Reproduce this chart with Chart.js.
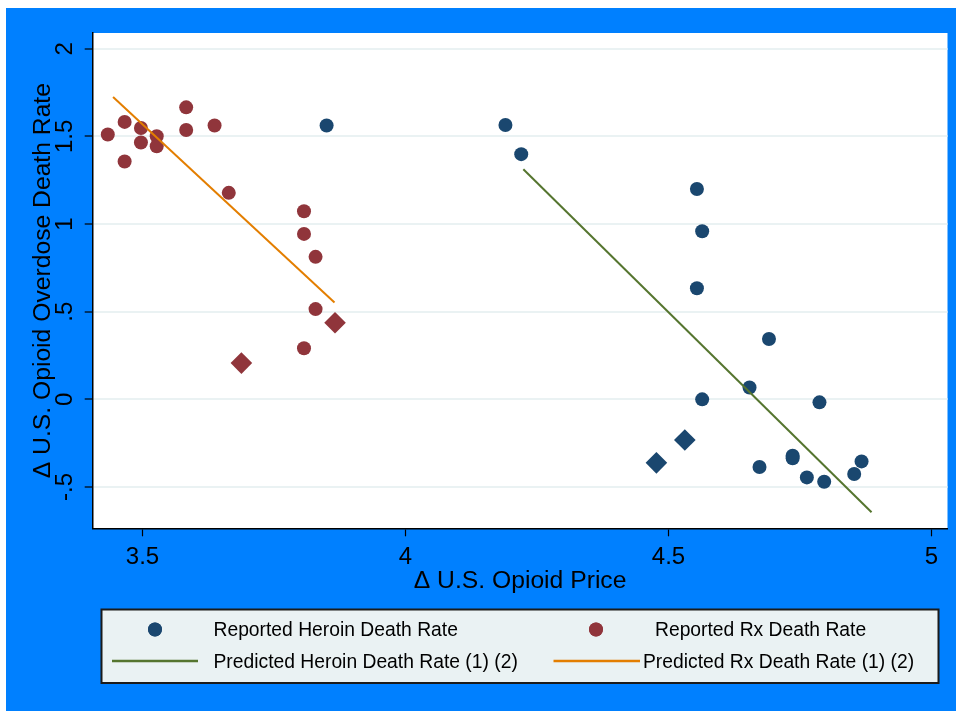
<!DOCTYPE html>
<html>
<head>
<meta charset="utf-8">
<script src="https://cdn.jsdelivr.net/npm/chart.js@4.4.0/dist/chart.umd.min.js"></script>
<style>
  html, body { margin: 0; padding: 0; background: #fff; }
  canvas { display: block; }
</style>
</head>
<body>
<canvas id="chart" width="956" height="711"></canvas>
<script>
// Change in opioid overdose death rate against change in opioid price
const heroinPrice = [3.850, 4.190, 4.220, 4.554, 4.564, 4.554, 4.691, 4.654, 4.564, 4.787, 4.673, 4.736, 4.736, 4.763, 4.796, 4.853, 4.867];
const heroinRate  = [1.562, 1.565, 1.399, 1.200, 0.959, 0.634, 0.344, 0.068, 0.000, -0.017, -0.386, -0.322, -0.336, -0.445, -0.470, -0.426, -0.354];
const heroinMarkedPrice = [4.531, 4.477];
const heroinMarkedRate  = [-0.232, -0.362];

const rxPrice = [3.434, 3.466, 3.466, 3.497, 3.497, 3.527, 3.527, 3.583, 3.583, 3.637, 3.664, 3.807, 3.807, 3.829, 3.829, 3.807];
const rxRate  = [1.511, 1.583, 1.357, 1.548, 1.465, 1.501, 1.444, 1.666, 1.537, 1.562, 1.178, 1.073, 0.944, 0.813, 0.515, 0.292];
const rxMarkedPrice = [3.866, 3.688];
const rxMarkedRate  = [0.437, 0.207];

// fitted lines (end points)
const heroinFitPrice = [4.224, 4.886];
const heroinFitRate  = [1.313, -0.644];
const rxFitPrice = [3.444, 3.865];
const rxFitRate  = [1.725, 0.553];

const xTicks = [3.5, 4, 4.5, 5];
const xTickLabels = ['3.5', '4', '4.5', '5'];
const yTicks = [-0.5, 0, 0.5, 1, 1.5, 2];
const yTickLabels = ['-.5', '0', '.5', '1', '1.5', '2'];

const legendLabels = [
  'Reported Heroin Death Rate',
  'Reported Rx Death Rate',
  'Predicted Heroin Death Rate (1) (2)',
  'Predicted Rx Death Rate (1) (2)'
];

const NAVY = '#1A476F';
const CRANBERRY = '#90353B';
const GREEN = '#55752F';
const ORANGE = '#E37E00';
const GRID = '#EAF2F3';
const FONT = '"Liberation Sans", Arial, Helvetica, sans-serif';

const pts = (xs, ys) => xs.map((x, i) => ({ x: x, y: ys[i] }));

const framePlugin = {
  id: 'frame',
  beforeDraw(chart) {
    const { ctx, chartArea: a } = chart;
    ctx.save();
    ctx.fillStyle = '#ffffff';
    ctx.fillRect(0, 0, chart.width, chart.height);
    ctx.fillStyle = '#0080FF';
    ctx.fillRect(6, 8, chart.width - 6, chart.height - 8);
    ctx.fillStyle = '#ffffff';
    ctx.fillRect(a.left, a.top, a.right - a.left, a.bottom - a.top);
    ctx.restore();
  }
};

const boxLegendPlugin = {
  id: 'boxLegend',
  afterDraw(chart) {
    const ctx = chart.ctx;
    const ds = chart.data.datasets;
    ctx.save();
    ctx.fillStyle = GRID;
    ctx.fillRect(101.5, 609.5, 837, 73.5);
    ctx.strokeStyle = '#1b1b1b';
    ctx.lineWidth = 2;
    ctx.strokeRect(101.5, 609.5, 837, 73.5);

    const items = [
      { d: ds[2], kind: 'dot',  cx: 155, x0: 0, x1: 0, cy: 629.5, tx: 213.5, ty: 630.5 },
      { d: ds[4], kind: 'dot',  cx: 596, x0: 0, x1: 0, cy: 629.5, tx: 655, ty: 630.5 },
      { d: ds[0], kind: 'line', cx: 0, x0: 112, x1: 198, cy: 661, tx: 213.5, ty: 662.5 },
      { d: ds[1], kind: 'line', cx: 0, x0: 553.5, x1: 640, cy: 661, tx: 643, ty: 662.5 }
    ];
    ctx.font = '19.3px ' + FONT;
    ctx.textBaseline = 'middle';
    ctx.textAlign = 'left';
    items.forEach(it => {
      if (it.kind === 'dot') {
        ctx.fillStyle = it.d.backgroundColor;
        Chart.helpers.drawPoint(ctx, { pointStyle: 'circle', radius: 7, borderWidth: 0, rotation: 0 }, it.cx, it.cy);
        ctx.fill();
      } else {
        ctx.strokeStyle = it.d.borderColor;
        ctx.lineWidth = 2.5;
        ctx.beginPath();
        ctx.moveTo(it.x0, it.cy);
        ctx.lineTo(it.x1, it.cy);
        ctx.stroke();
      }
      ctx.fillStyle = '#000';
      ctx.fillText(it.d.label, it.tx, it.ty);
    });
    ctx.restore();
  }
};

new Chart(document.getElementById('chart'), {
  type: 'scatter',
  data: {
    datasets: [
      { label: legendLabels[2], data: pts(heroinFitPrice, heroinFitRate), showLine: true,
        borderColor: GREEN, backgroundColor: GREEN, borderWidth: 2, pointRadius: 0, order: 0 },
      { label: legendLabels[3], data: pts(rxFitPrice, rxFitRate), showLine: true,
        borderColor: ORANGE, backgroundColor: ORANGE, borderWidth: 2, pointRadius: 0, order: 0 },
      { label: legendLabels[0], data: pts(heroinPrice, heroinRate),
        backgroundColor: NAVY, borderWidth: 0, pointRadius: 7, pointStyle: 'circle', order: 1 },
      { label: legendLabels[0], data: pts(heroinMarkedPrice, heroinMarkedRate),
        backgroundColor: NAVY, borderWidth: 0, pointRadius: 10.8, pointStyle: 'rectRot', order: 1 },
      { label: legendLabels[1], data: pts(rxPrice, rxRate),
        backgroundColor: CRANBERRY, borderWidth: 0, pointRadius: 7, pointStyle: 'circle', order: 1 },
      { label: legendLabels[1], data: pts(rxMarkedPrice, rxMarkedRate),
        backgroundColor: CRANBERRY, borderWidth: 0, pointRadius: 10.8, pointStyle: 'rectRot', order: 1 }
    ]
  },
  options: {
    responsive: false,
    animation: false,
    devicePixelRatio: 1,
    layout: { autoPadding: false, padding: { left: 0, top: 33, right: 8.5, bottom: 111 } },
    plugins: {
      legend: { display: false },
      tooltip: { enabled: false }
    },
    elements: { point: { hoverRadius: 7 } },
    scales: {
      x: {
        type: 'linear',
        min: 3.4053,
        max: 5.0304,
        afterBuildTicks: s => { s.ticks = xTicks.map(v => ({ value: v })); },
        afterFit: s => { s.height = 600 - 528.3; s.paddingRight = 0; s.paddingLeft = 0; },
        ticks: {
          callback: (v, i) => xTickLabels[i],
          font: { family: FONT, size: 24 },
          color: '#000',
          padding: 7,
          maxRotation: 0,
          autoSkip: false
        },
        grid: { drawOnChartArea: false, drawTicks: true, tickLength: 8, tickColor: '#000', tickWidth: 1.2 },
        border: { color: '#000', width: 1.5 },
        title: {
          display: true,
          text: 'Δ U.S. Opioid Price',
          font: { family: FONT, size: 24.7 },
          color: '#000',
          padding: { top: 0, bottom: 4 }
        }
      },
      y: {
        type: 'linear',
        min: -0.7355,
        max: 2.090,
        afterBuildTicks: s => { s.ticks = yTicks.map(v => ({ value: v })); },
        afterFit: s => { s.width = 92.7; s.paddingTop = 0; s.paddingBottom = 0; },
        ticks: {
          callback: (v, i) => yTickLabels[i],
          font: { family: FONT, size: 24 },
          color: '#000',
          minRotation: 90,
          maxRotation: 90,
          crossAlign: 'center',
          padding: 3,
          autoSkip: false
        },
        grid: { color: GRID, lineWidth: 2, drawTicks: true, tickLength: 8, tickColor: '#000', tickWidth: 1.2 },
        border: { color: '#000', width: 1.5 },
        title: {
          display: true,
          text: 'Δ U.S. Opioid Overdose Death Rate',
          font: { family: FONT, size: 24.7 },
          color: '#000',
          padding: { top: 28, bottom: 0 }
        }
      }
    }
  },
  plugins: [framePlugin, boxLegendPlugin]
});
</script>
</body>
</html>
